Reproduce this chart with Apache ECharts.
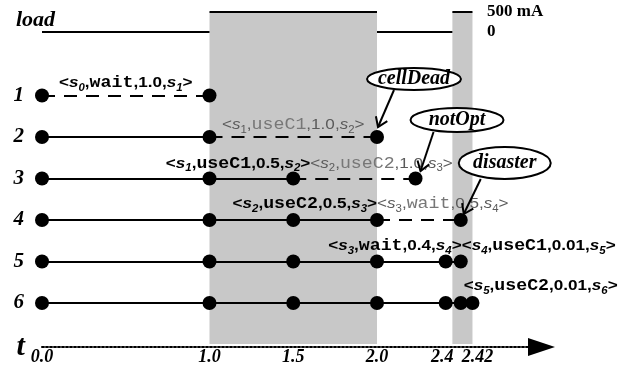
<!DOCTYPE html>
<html><head><meta charset="utf-8">
<script src="https://cdn.jsdelivr.net/npm/echarts@6/dist/echarts.min.js"></script>
<style>html,body{margin:0;padding:0;background:#fff}#c{width:631px;height:368px}</style>
</head><body><div id="c"></div>
<script>
// ---------------- data ----------------
const rowNames = ['1', '2', '3', '4', '5', '6'];
const rowEventTimes = [
  [0, 1.0],
  [0, 1.0, 2.0],
  [0, 1.0, 1.5, 2.23],
  [0, 1.0, 1.5, 2.0, 2.5],
  [0, 1.0, 1.5, 2.0, 2.41, 2.5],
  [0, 1.0, 1.5, 2.0, 2.41, 2.5, 2.57]
];
const rowDashedSegments = [[0], [1], [2], [3], [], []];

const transitionRows   = [1, 2, 3, 3, 4, 4, 5, 5, 6];
const transitionFrom   = ['0', '1', '1', '2', '2', '3', '3', '4', '5'];
const transitionAction = ['wait', 'useC1', 'useC1', 'useC2', 'useC2', 'wait', 'wait', 'useC1', 'useC2'];
const transitionDur    = ['1.0', '1.0', '0.5', '1.0', '0.5', '0.5', '0.4', '0.01', '0.01'];
const transitionTo     = ['1', '2', '2', '3', '3', '4', '4', '5', '6'];
const transitionTaken  = [true, false, true, false, true, false, true, true, true];
const transitionAnchor = [0.5, 1.5, 1.5, 1.5, 2.0, 2.0, 2.41, 2.41, 2.5];

const loadStart = [0, 1.0, 2.0, 2.45];
const loadEnd   = [1.0, 2.0, 2.45, 2.57];
const loadLevel = [0, 500, 0, 500];

const annotationText = ['cellDead', 'notOpt', 'disaster'];
const annotationRow  = [2, 3, 4];
const annotationTime = [2.0, 2.23, 2.5];

const timeTickValues = [0, 1.0, 1.5, 2.0, 2.39, 2.6];
const timeTickLabels = ['0.0', '1.0', '1.5', '2.0', '2.4', '2.42'];
const loadTickValues = [0, 500];
const loadTickLabels = ['0', '500 mA'];

// ---------------- layout / style ----------------
const GRID_LEFT = 42, PX_PER_T = 167.5, T_MAX = 3.0;
const AXIS_PX = 347;
const ROW1_PX = 95.5, ROW_GAP = 41.5;
const LOAD0_PX = 32, LOAD_HI_PX = 12, LOAD_HI = 500;
const rowMin = 1 - ROW1_PX / ROW_GAP;
const rowMax = rowMin + AXIS_PX / ROW_GAP;
const mAperPx = LOAD_HI / (LOAD0_PX - LOAD_HI_PX);
const loadMax = LOAD_HI + LOAD_HI_PX * mAperPx;
const loadMin = -(AXIS_PX - LOAD0_PX) * mAperPx;

const SERIF = 'Liberation Serif', SANS = 'Liberation Sans', MONO = 'Liberation Mono';
const GREY = '#5a5a5a';
const BAND = '#c8c8c8';
const LABEL_SCALE_X = 1.14;

const LABEL_PLACE = [ // align, dx, dy (px, relative to anchor point on the row)
  ['center', 0, -12.5], ['center', 0, -12], ['right', 17, -15], ['left', 17, -15],
  ['right', 0, -16], ['left', 0, -16], ['right', 16, -15.5], ['left', 16, -15.5], ['left', 3, -17]
];
const ANNOT_STYLE = [
  {dx: 37, dy: -58, w: 94, h: 22, tail: [17, -47], tip: [1, -10]},
  {dx: 41.5, dy: -58.5, w: 93, h: 24, tail: [18, -46.5], tip: [5, -7.5]},
  {dx: 44, dy: -57, w: 92, h: 32, tail: [20, -41], tip: [3, -6]}
];

const LH = 20;
const rich = {
  p:  {fontFamily: SANS, fontWeight: 'bold', fontSize: 15, lineHeight: LH, verticalAlign: 'middle', fill: '#000'},
  s:  {fontFamily: SANS, fontWeight: 'bold', fontStyle: 'italic', fontSize: 15, lineHeight: LH, verticalAlign: 'middle', fill: '#000'},
  b:  {fontFamily: SANS, fontWeight: 'bold', fontStyle: 'italic', fontSize: 10, lineHeight: 12, verticalAlign: 'bottom', fill: '#000'},
  m:  {fontFamily: MONO, fontWeight: 'bold', fontSize: 16, lineHeight: LH, verticalAlign: 'middle', fill: '#000'},
  pg: {fontFamily: SANS, fontSize: 15, lineHeight: LH, verticalAlign: 'middle', fill: GREY},
  sg: {fontFamily: SANS, fontStyle: 'italic', fontSize: 15, lineHeight: LH, verticalAlign: 'middle', fill: GREY},
  bg: {fontFamily: SANS, fontSize: 10, lineHeight: 12, verticalAlign: 'bottom', fill: GREY},
  mg: {fontFamily: MONO, fontSize: 16, lineHeight: LH, verticalAlign: 'middle', fill: '#777'}
};
function labelText(i) {
  const g = transitionTaken[i] ? '' : 'g';
  return '{p' + g + '|<}{s' + g + '|s}{b' + g + '|' + transitionFrom[i] + '}{p' + g + '|,}' +
         '{m' + g + '|' + transitionAction[i] + '}{p' + g + '|,' + transitionDur[i] + ',}' +
         '{s' + g + '|s}{b' + g + '|' + transitionTo[i] + '}{p' + g + '|>}';
}
function lookup(vals, labels, v) {
  for (let i = 0; i < vals.length; i++) if (Math.abs(vals[i] - v) < 1e-9) return labels[i];
  return '';
}

// ---------------- build series data ----------------
const segData = [], dotData = [];
rowEventTimes.forEach(function (ts, r) {
  ts.forEach(function (t, k) {
    dotData.push([t, r + 1]);
    if (k < ts.length - 1) {
      const dashed = rowDashedSegments[r].indexOf(k) >= 0;
      segData.push({coords: [[t, r + 1], [ts[k + 1], r + 1]],
        lineStyle: {type: dashed ? [13, 9] : 'solid'}});
    }
  });
});
const loadData = loadStart.map(function (s, i) {
  return {coords: [[s, loadLevel[i]], [loadEnd[i], loadLevel[i]]]};
});
const bandData = [];
loadStart.forEach(function (s, i) { if (loadLevel[i] > 0) bandData.push([s, loadEnd[i], loadLevel[i]]); });
const labelData = transitionRows.map(function (r, i) { return [transitionAnchor[i], r, i]; });
const annotData = annotationRow.map(function (r, i) { return [annotationTime[i], r, i]; });

const chart = echarts.init(document.getElementById('c'), null, {renderer: 'canvas'});
chart.setOption({
  animation: false,
  backgroundColor: '#fff',
  title: {text: 'load', left: 11, top: 4,
    textStyle: {fontFamily: SERIF, fontWeight: 'bold', fontStyle: 'italic', fontSize: 22, color: '#000'}},
  grid: {left: GRID_LEFT, top: 0, width: T_MAX * PX_PER_T, height: AXIS_PX, containLabel: false},
  xAxis: {
    type: 'value', min: 0, max: T_MAX, position: 'bottom',
    splitLine: {show: false}, axisTick: {show: false},
    axisLine: {show: true, onZero: false, lineStyle: {color: '#000', width: 2, type: [2, 2]},
      symbol: ['none', 'triangle'], symbolSize: [18, 27], symbolOffset: [0, -3]},
    axisLabel: {customValues: timeTickValues, formatter: function (v) { return lookup(timeTickValues, timeTickLabels, v); },
      fontFamily: SERIF, fontWeight: 'bold', fontStyle: 'italic', fontSize: 18, color: '#000', margin: 1},
    name: 't', nameLocation: 'start', nameGap: 14,
    nameTextStyle: {fontFamily: SERIF, fontWeight: 'bold', fontStyle: 'italic', fontSize: 30, color: '#000', verticalAlign: 'middle'}
  },
  yAxis: [{
    type: 'value', inverse: true, min: rowMin, max: rowMax, position: 'left',
    axisLine: {show: false}, axisTick: {show: false}, splitLine: {show: false},
    axisLabel: {customValues: [1, 2, 3, 4, 5, 6], formatter: function (v) { return rowNames[Math.round(v) - 1]; },
      fontFamily: SERIF, fontWeight: 'bold', fontStyle: 'italic', fontSize: 21, color: '#000', margin: 18}
  }, {
    type: 'value', min: loadMin, max: loadMax, position: 'right', offset: -(GRID_LEFT + T_MAX * PX_PER_T - 487),
    axisLine: {show: false}, axisTick: {show: false}, splitLine: {show: false},
    axisLabel: {customValues: loadTickValues, formatter: function (v) { return lookup(loadTickValues, loadTickLabels, v); },
      fontFamily: SERIF, fontWeight: 'bold', fontSize: 17, color: '#000', margin: 0}
  }],
  series: [{
    type: 'custom', name: 'bands', yAxisIndex: 1, z: 0, silent: true, data: bandData,
    renderItem: function (params, api) {
      const a = api.coord([api.value(0), api.value(2)]);
      const b = api.coord([api.value(1), loadMin]);
      return {type: 'rect', shape: {x: a[0], y: a[1], width: b[0] - a[0], height: b[1] - a[1] - 3},
        style: {fill: BAND}};
    }
  }, {
    type: 'lines', name: 'load', coordinateSystem: 'cartesian2d', yAxisIndex: 1, z: 2, silent: true,
    lineStyle: {color: '#000', width: 2, opacity: 1}, data: loadData
  }, {
    type: 'lines', name: 'runs', coordinateSystem: 'cartesian2d', yAxisIndex: 0, z: 3, silent: true,
    lineStyle: {color: '#000', width: 2, opacity: 1}, data: segData
  }, {
    type: 'scatter', name: 'states', yAxisIndex: 0, z: 4, silent: true, clip: false,
    symbol: 'circle', symbolSize: 14, itemStyle: {color: '#000', opacity: 1}, data: dotData
  }, {
    type: 'custom', name: 'transitions', yAxisIndex: 0, z: 5, silent: true, data: labelData,
    renderItem: function (params, api) {
      const i = api.value(2);
      const p = api.coord([api.value(0), api.value(1)]);
      const pl = LABEL_PLACE[i];
      return {type: 'text', x: p[0] + pl[1], y: p[1] + pl[2], scaleX: LABEL_SCALE_X,
        style: {text: labelText(i), rich: rich, align: pl[0], verticalAlign: 'middle'}};
    }
  }, {
    type: 'custom', name: 'annotations', yAxisIndex: 0, z: 6, silent: true, data: annotData,
    renderItem: function (params, api) {
      const i = api.value(2);
      const p = api.coord([api.value(0), api.value(1)]);
      const st = ANNOT_STYLE[i];
      const cx = p[0] + st.dx, cy = p[1] + st.dy;
      const tx = p[0] + st.tail[0], ty = p[1] + st.tail[1];
      const hx = p[0] + st.tip[0], hy = p[1] + st.tip[1];
      const ang = Math.atan2(ty - hy, tx - hx), L = 11, A = 0.6;
      const b1 = [hx + L * Math.cos(ang + A), hy + L * Math.sin(ang + A)];
      const b2 = [hx + L * Math.cos(ang - A), hy + L * Math.sin(ang - A)];
      return {type: 'group', children: [
        {type: 'line', shape: {x1: tx, y1: ty, x2: hx, y2: hy}, style: {stroke: '#000', lineWidth: 2}},
        {type: 'polyline', shape: {points: [b1, [hx, hy], b2]}, style: {stroke: '#000', lineWidth: 2, fill: null}},
        {type: 'ellipse', shape: {cx: cx, cy: cy, rx: st.w / 2, ry: st.h / 2}, style: {fill: '#fff', stroke: '#000', lineWidth: 2}},
        {type: 'text', x: cx, y: cy, style: {text: annotationText[i], fill: '#000', align: 'center', verticalAlign: 'middle',
          font: 'italic bold 20px "Liberation Serif"'}}
      ]};
    }
  }]
});
</script></body></html>
